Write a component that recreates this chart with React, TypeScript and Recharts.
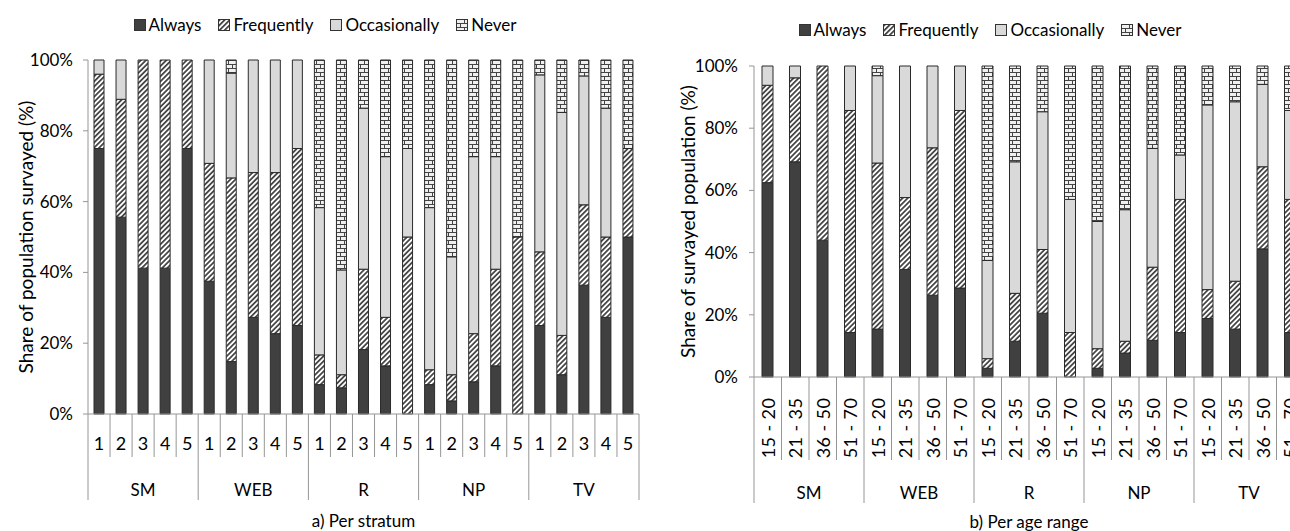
import React from 'react';
import { BarChart, Bar, XAxis, YAxis, Legend } from 'recharts';

const FONT = 'Lato, "Open Sans", sans-serif';
const AXIS = '#969696';

const MEDIA = ['SM', 'WEB', 'R', 'NP', 'TV'];
const STRATA = ['1', '2', '3', '4', '5'];
const AGES = ['15 - 20', '21 - 35', '36 - 50', '51 - 70'];
const Y_TICKS = [0, 20, 40, 60, 80, 100];

// a) per stratum: SM1..SM5, WEB1..WEB5, R1..R5, NP1..NP5, TV1..TV5
const ALWAYS_STRATUM = [75, 55.6, 41.2, 41.2, 75, 37.5, 14.8, 27.3, 22.7, 25, 8.3, 7.4, 18.2, 13.6, 0, 8.3, 3.7, 9.1, 13.6, 0, 25, 11.1, 36.4, 27.3, 50];
const FREQ_STRATUM = [21, 33.3, 58.8, 58.8, 25, 33.3, 51.9, 40.9, 45.5, 50, 8.4, 3.7, 22.7, 13.7, 50, 4.2, 7.4, 13.6, 27.3, 50, 20.8, 11.1, 22.7, 22.7, 25];
const OCC_STRATUM = [4, 11.1, 0, 0, 0, 29.2, 29.6, 31.8, 31.8, 25, 41.6, 29.6, 45.5, 45.4, 25, 45.8, 33.3, 50, 31.8, 0, 50, 63, 36.4, 36.4, 0];
const NEVER_STRATUM = [0, 0, 0, 0, 0, 0, 3.7, 0, 0, 0, 41.7, 59.3, 13.6, 27.3, 25, 41.7, 55.6, 27.3, 27.3, 50, 4.2, 14.8, 4.5, 13.6, 25];

// b) per age range: SM 15-20..51-70, WEB.., R.., NP.., TV..
const ALWAYS_AGE = [62.5, 69.2, 44, 14.3, 15.4, 34.6, 26.3, 28.6, 2.8, 11.5, 20.5, 0, 2.8, 7.7, 11.8, 14.3, 18.8, 15.4, 41.2, 14.3];
const FREQ_AGE = [31.3, 27, 56, 71.4, 53.4, 23.1, 47.4, 57.1, 3.1, 15.4, 20.5, 14.3, 6.3, 3.8, 23.5, 42.8, 9.3, 15.4, 26.4, 42.8];
const OCC_AGE = [6.2, 3.8, 0, 14.3, 28.1, 42.3, 26.3, 14.3, 31.6, 42.3, 44.3, 42.8, 40.9, 42.3, 38.2, 14.3, 59.4, 57.7, 26.5, 28.6];
const NEVER_AGE = [0, 0, 0, 0, 3.1, 0, 0, 0, 62.5, 30.8, 14.7, 42.9, 50, 46.2, 26.5, 28.6, 12.5, 11.5, 5.9, 14.3];

const SERIES = [
  { key: 'always', name: 'Always', fill: '#404040' },
  { key: 'frequently', name: 'Frequently', fill: 'url(#hatch)' },
  { key: 'occasionally', name: 'Occasionally', fill: '#d9d9d9' },
  { key: 'never', name: 'Never', fill: 'url(#brick)' },
];

const buildRows = (subs: string[], a: number[], f: number[], o: number[], n: number[]) =>
  MEDIA.flatMap((m, i) =>
    subs.map((s, j) => {
      const k = i * subs.length + j;
      return { key: `${m}|${s}`, always: a[k], frequently: f[k], occasionally: o[k], never: n[k] };
    })
  );

const stratumRows = buildRows(STRATA, ALWAYS_STRATUM, FREQ_STRATUM, OCC_STRATUM, NEVER_STRATUM);
const ageRows = buildRows(AGES, ALWAYS_AGE, FREQ_AGE, OCC_AGE, NEVER_AGE);

// layout
const L = { w: 650, h: 531, top: 60, right: 11, yw: 88, xh: 117 };
const R = { w: 670, h: 531, top: 66, right: 6, yw: 114, xh: 154 };
const L_BAND = (L.w - L.right - L.yw) / stratumRows.length;
const R_BAND = (R.w - R.right - R.yw) / ageRows.length;

const txt = { fontFamily: FONT, fontSize: 16, fill: '#000' };

const StratumTick = (p: any) => {
  const { x, y, index, payload } = p;
  const [medium, sub] = String(payload.value).split('|');
  const n = STRATA.length;
  const left = x - L_BAND / 2;
  const right = x + L_BAND / 2;
  return (
    <g>
      <line x1={left} x2={left} y1={y} y2={index % n === 0 ? y + 86 : y + 43} stroke={AXIS} />
      {index === stratumRows.length - 1 && <line x1={right} x2={right} y1={y} y2={y + 86} stroke={AXIS} />}
      <text x={x} y={y + 29} textAnchor="middle" dominantBaseline="central" {...txt} fontSize={18}>{sub}</text>
      {index % n === 2 && (
        <text x={x} y={y + 75} textAnchor="middle" dominantBaseline="central" {...txt} fontSize={17}>{medium}</text>
      )}
      {index === Math.floor(stratumRows.length / 2) && (
        <text x={x} y={y + 106} textAnchor="middle" dominantBaseline="central" {...txt} fontSize={17}>a) Per stratum</text>
      )}
    </g>
  );
};

const AgeTick = (p: any) => {
  const { x, y, index, payload } = p;
  const [medium, sub] = String(payload.value).split('|');
  const n = AGES.length;
  const left = x - R_BAND / 2;
  return (
    <g>
      <line x1={left} x2={left} y1={y} y2={index % n === 0 ? y + 126 : y + 83} stroke={AXIS} />
      <text transform={`translate(${x},${y + 51}) rotate(-90)`} textAnchor="middle" dominantBaseline="central" {...txt} fontSize={18} letterSpacing={0.4}>{sub}</text>
      {index % n === 2 && (
        <text x={left} y={y + 115} textAnchor="middle" dominantBaseline="central" {...txt} fontSize={17}>{medium}</text>
      )}
      {index === ageRows.length / 2 && (
        <text x={left} y={y + 144} textAnchor="middle" dominantBaseline="central" {...txt} fontSize={17}>b) Per age range</text>
      )}
    </g>
  );
};

const yTitle = (label: string, cx: number) => (p: any) => {
  const vb = p.viewBox || {};
  const cy = (vb.y ?? 60) + (vb.height ?? 354) / 2;
  return (
    <text transform={`translate(${cx},${cy}) rotate(-90)`} textAnchor="middle" dominantBaseline="central" {...txt} fontSize={19}>
      {label}
    </text>
  );
};

const LegendContent = () => (
  <div style={{ display: 'flex', justifyContent: 'center', alignItems: 'center', fontFamily: FONT, fontSize: 17, color: '#000', lineHeight: '20px' }}>
    {SERIES.map((s, i) => (
      <div key={s.key} style={{ display: 'flex', alignItems: 'center', marginLeft: i ? 17 : 0 }}>
        <svg width={12} height={12} style={{ marginRight: 3 }}>
          <rect x={0.5} y={0.5} width={11} height={11} fill={s.fill} stroke="#333" />
        </svg>
        <span>{s.name}</span>
      </div>
    ))}
  </div>
);

const renderBars = (size: number) =>
  SERIES.map((s) => (
    <Bar
      key={s.key}
      dataKey={s.key}
      name={s.name}
      stackId="a"
      fill={s.fill}
      stroke="#2a2a2a"
      strokeWidth={1}
      barSize={size}
      isAnimationActive={false}
    />
  ));

export default function App() {
  return (
    <div style={{ position: 'absolute', left: 0, top: 0, width: 1290, height: 531, overflow: 'hidden', background: '#fff' }}>
      <svg width={0} height={0} style={{ position: 'absolute' }}>
        <defs>
          <pattern id="hatch" patternUnits="userSpaceOnUse" width={3.6} height={3.6} patternTransform="rotate(45)">
            <rect width={3.6} height={3.6} fill="#fff" />
            <line x1={1.8} y1={0} x2={1.8} y2={3.6} stroke="#222" strokeWidth={1.5} />
          </pattern>
          <pattern id="brick" patternUnits="userSpaceOnUse" width={8} height={8}>
            <rect width={8} height={8} fill="#f0f0f0" />
            <line x1={0} y1={0.5} x2={8} y2={0.5} stroke="#444" strokeWidth={1} />
            <line x1={0} y1={4.5} x2={8} y2={4.5} stroke="#444" strokeWidth={1} />
            <line x1={0.5} y1={0} x2={0.5} y2={4} stroke="#444" strokeWidth={1} />
            <line x1={4.5} y1={4} x2={4.5} y2={8} stroke="#444" strokeWidth={1} />
          </pattern>
        </defs>
      </svg>

      <div style={{ position: 'absolute', left: 0, top: 0 }}>
        <BarChart width={L.w} height={L.h} data={stratumRows} margin={{ top: L.top, right: L.right, left: 0, bottom: 0 }}>
          <XAxis dataKey="key" interval={0} height={L.xh} tickSize={0} tickMargin={0} axisLine={{ stroke: AXIS }} tickLine={false} tick={(p: any) => <StratumTick {...p} />} />
          <XAxis xAxisId="top" dataKey="key" orientation="top" height={0} tick={false} tickLine={false} axisLine={{ stroke: AXIS }} />
          <YAxis
            width={L.yw}
            domain={[0, 100]}
            ticks={Y_TICKS}
            interval={0}
            tickFormatter={(v) => `${v}%`}
            tickSize={5}
            tickMargin={10}
            axisLine={{ stroke: AXIS }}
            tickLine={{ stroke: AXIS }}
            tick={{ ...txt, fontSize: 17 }}
            label={yTitle('Share of population survayed (%)', 25)}
          />
          <YAxis yAxisId="r" orientation="right" width={0} tick={false} tickLine={false} axisLine={{ stroke: AXIS }} />
          <Legend layout="horizontal" verticalAlign="middle" align="center" wrapperStyle={{ top: 15, left: 0, width: L.w }} content={() => <LegendContent />} />
          {renderBars(10)}
        </BarChart>
      </div>

      <div style={{ position: 'absolute', left: 640, top: 0 }}>
        <BarChart width={R.w} height={R.h} data={ageRows} margin={{ top: R.top, right: R.right, left: 0, bottom: 0 }}>
          <XAxis dataKey="key" interval={0} height={R.xh} tickSize={0} tickMargin={0} axisLine={{ stroke: AXIS }} tickLine={false} tick={(p: any) => <AgeTick {...p} />} />
          <XAxis xAxisId="top" dataKey="key" orientation="top" height={0} tick={false} tickLine={false} axisLine={{ stroke: AXIS }} />
          <YAxis
            width={R.yw}
            domain={[0, 100]}
            ticks={Y_TICKS}
            interval={0}
            tickFormatter={(v) => `${v}%`}
            tickSize={5}
            tickMargin={11}
            axisLine={{ stroke: AXIS }}
            tickLine={{ stroke: AXIS }}
            tick={{ ...txt, fontSize: 17 }}
            label={yTitle('Share of survayed population (%)', 47)}
          />
          <Legend layout="horizontal" verticalAlign="middle" align="center" wrapperStyle={{ top: 20, left: 0, width: 700 }} content={() => <LegendContent />} />
          {renderBars(11)}
        </BarChart>
      </div>
    </div>
  );
}
